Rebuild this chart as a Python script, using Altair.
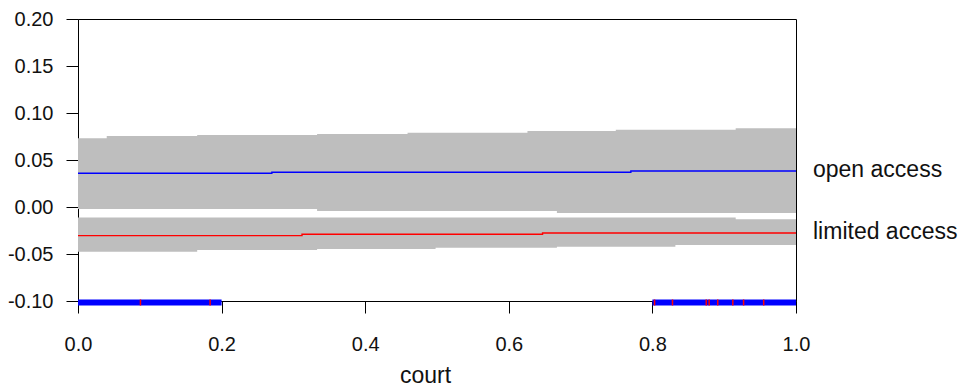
import altair as alt
import pandas as pd

# ---- data ----
series_names = ["open access", "limited access"]

# confidence bands (step functions of court)
band_x_open = [0.0, 0.040, 0.166, 0.333, 0.459, 0.626, 0.667, 0.749, 0.916, 1.0]
hi_open = [0.0731, 0.0755, 0.0766, 0.0777, 0.0790, 0.0809, 0.0809, 0.0822, 0.0837, 0.0837]
lo_open = [-0.0021, -0.0021, -0.0021, -0.0043, -0.0043, -0.0043, -0.0064, -0.0064, -0.0064, -0.0064]

band_x_lim = [0.0, 0.166, 0.333, 0.498, 0.667, 0.832, 0.916, 1.0]
hi_lim = [-0.0112, -0.0112, -0.0112, -0.0112, -0.0112, -0.0112, -0.0131, -0.0131]
lo_lim = [-0.0476, -0.0457, -0.0447, -0.0433, -0.0422, -0.0404, -0.0404, -0.0404]

# fitted lines
line_x_open = [0.0, 0.270, 0.770, 1.0]
fit_open = [0.0359, 0.0369, 0.0383, 0.0383]
line_x_lim = [0.0, 0.312, 0.647, 1.0]
fit_lim = [-0.0305, -0.0290, -0.0277, -0.0277]

# rug: dense blue observation ranges and red observations
rug_blue_start = [0.0, 0.800]
rug_blue_end = [0.200, 1.0]
rug_red = [0.087, 0.184, 0.803, 0.828, 0.875, 0.879, 0.891, 0.912, 0.927, 0.955]
rug_level = -0.10

x_ticks = [0.0, 0.2, 0.4, 0.6, 0.8, 1.0]
y_ticks = [-0.10, -0.05, 0.00, 0.05, 0.10, 0.15, 0.20]

# ---- tables ----
bands = pd.concat([
    pd.DataFrame({"court": band_x_open, "lo": lo_open, "hi": hi_open, "series": series_names[0]}),
    pd.DataFrame({"court": band_x_lim, "lo": lo_lim, "hi": hi_lim, "series": series_names[1]}),
])
lines = pd.concat([
    pd.DataFrame({"court": line_x_open, "fit": fit_open, "series": series_names[0]}),
    pd.DataFrame({"court": line_x_lim, "fit": fit_lim, "series": series_names[1]}),
])
labels = pd.DataFrame({
    "court": [line_x_open[-1], line_x_lim[-1]],
    "fit": [fit_open[-1], fit_lim[-1]],
    "series": series_names,
})
rug_b = pd.DataFrame({"court": rug_blue_start, "court2": rug_blue_end, "lvl": rug_level})
rug_r = pd.DataFrame({"court": rug_red, "lvl": rug_level})

FONT = "Liberation Sans"
x_scale = alt.Scale(domain=[0, 1], nice=False, zero=False)
y_scale = alt.Scale(domain=[-0.10, 0.20], nice=False, zero=False)

axis_common = dict(grid=False, domainColor="black", domainWidth=1, tickColor="black", tickWidth=1,
                   tickSize=12, labelFont=FONT, labelFontSize=20, labelColor="#111",
                   labelFlush=False, labelOverlap=False, labelBound=False)
x_axis = alt.Axis(values=x_ticks, format=".1f", title="court", labelPadding=21,
                  titleX=347, titleY=81, titleBaseline="alphabetic",
                  titleFontSize=23, titleFont=FONT, titleFontWeight="normal", titleColor="#111",
                  **axis_common)
y_axis = alt.Axis(values=y_ticks, format=".2f", title=None, labelPadding=13, labelBaseline="middle",
                  labelExpr="replace(datum.label, '\u2212', '-')",
                  **axis_common)

color_scale = alt.Scale(domain=series_names, range=["#0000ff", "#ff0000"])

band_layer = alt.Chart(bands).mark_area(interpolate="step-after", color="#bebebe", opacity=1).encode(
    x=alt.X("court:Q", scale=x_scale, axis=x_axis),
    y=alt.Y("lo:Q", scale=y_scale, axis=y_axis),
    y2="hi:Q",
    detail="series:N",
)

line_layer = alt.Chart(lines).mark_line(interpolate="step-after", strokeWidth=1.4).encode(
    x=alt.X("court:Q", scale=x_scale, axis=x_axis),
    y=alt.Y("fit:Q", scale=y_scale, axis=y_axis),
    color=alt.Color("series:N", scale=color_scale, legend=None),
)

rug_blue_layer = alt.Chart(rug_b).mark_rule(color="#0000ff", strokeWidth=6, strokeCap="butt", yOffset=1.5).encode(
    x=alt.X("court:Q", scale=x_scale, axis=x_axis),
    x2="court2:Q",
    y=alt.Y("lvl:Q", scale=y_scale, axis=y_axis),
)

rug_red_layer = alt.Chart(rug_r).mark_tick(color="#ff0000", orient="vertical", size=6, thickness=1.5, yOffset=1.5, opacity=1).encode(
    x=alt.X("court:Q", scale=x_scale, axis=x_axis),
    y=alt.Y("lvl:Q", scale=y_scale, axis=y_axis),
)

label_layer = alt.Chart(labels).mark_text(align="left", baseline="alphabetic", dx=17, dy=6,
                                          font=FONT, fontSize=23, color="#111").encode(
    x=alt.X("court:Q", scale=x_scale, axis=x_axis),
    y=alt.Y("fit:Q", scale=y_scale, axis=y_axis),
    text="series:N",
)

chart = alt.layer(band_layer, line_layer, rug_blue_layer, rug_red_layer, label_layer).properties(
    width=718, height=282,
    autosize=alt.AutoSizeParams(type="none"),
    padding={"left": 78, "top": 19, "right": 169, "bottom": 87},
    background="white",
).configure_view(
    stroke="black", strokeWidth=1
)

chart.save("out.html", embed_options={"renderer": "svg", "actions": False})
